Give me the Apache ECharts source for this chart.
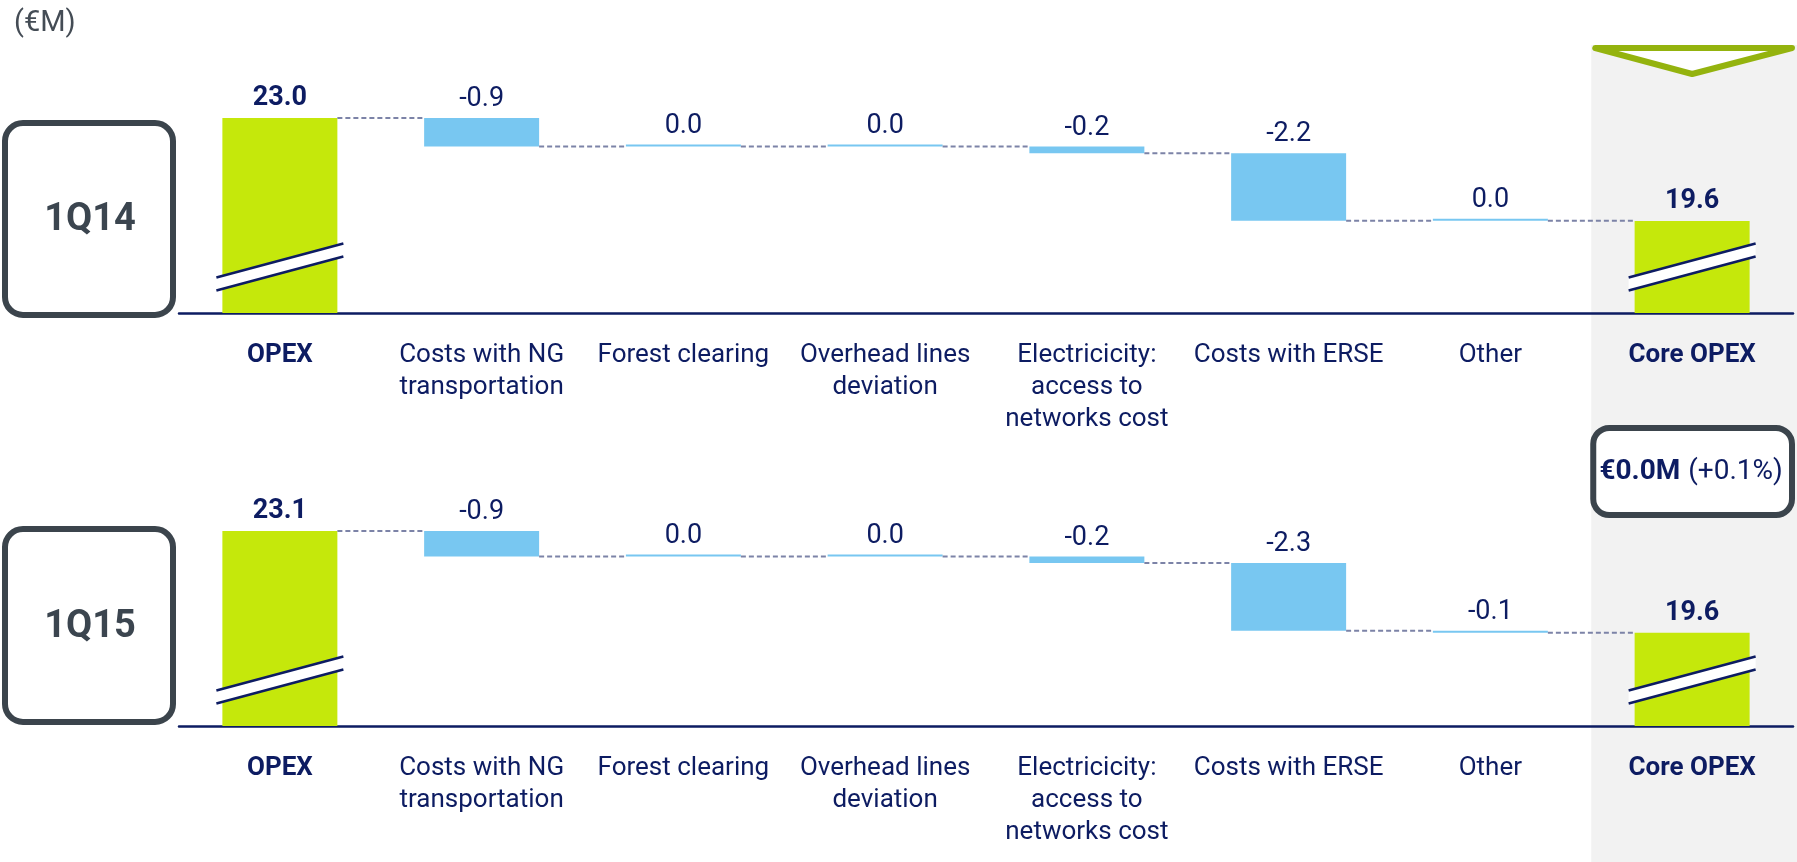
<!DOCTYPE html>
<html><head><meta charset="utf-8">
<script src="https://cdn.jsdelivr.net/npm/echarts@6.0.0/dist/echarts.min.js"></script>
<style>html,body{margin:0;padding:0;background:#fff}#c{width:1797px;height:862px}</style>
</head><body><div id="c"></div>
<script>
// ---- data ----
const categories = ['OPEX', 'Costs with NG\ntransportation', 'Forest clearing', 'Overhead lines\ndeviation',
  'Electricicity:\naccess to\nnetworks cost', 'Costs with ERSE', 'Other', 'Core OPEX'];
const periods = ['1Q14', '1Q15'];
const opex1Q14 = 23.03;
const deltas1Q14 = [-0.94, 0.0, 0.0, -0.22, -2.23, 0.0];
const core1Q14 = 19.63;
const opex1Q15 = 23.10;
const deltas1Q15 = [-0.88, 0.0, 0.0, -0.22, -2.33, -0.07];
const core1Q15 = 19.60;
const changeBold = '€0.0M';
const changeNormal = '(+0.1%)';
const unitLabel = '(€M)';
const axisRanges = [[16.6, 25.6], [16.4, 24.85]];

// ---- styles ----
const FONT = 'Roboto, "Noto Sans", sans-serif';
const NAVY = '#0d1c62';
const GREEN = '#c5e80b';
const BLUE = '#78c7f1';
const DASH = '#7c83a7';
const BOX = '#3b444c';
const BAR_FRAC = 0.57;

function panel(opex, deltas, core) {
  const totals = [opex], base = ['-'], vis = ['-'], signed = [null], levels = [opex];
  let level = opex;
  deltas.forEach(d => {
    const nl = level + d;
    totals.push('-'); base.push(Math.min(level, nl)); vis.push(Math.abs(d)); signed.push(d);
    level = nl; levels.push(level);
  });
  totals.push(core); base.push('-'); vis.push('-'); signed.push(null);
  const connectors = levels.map((l, i) => [i, l]);
  return {totals, base, vis, signed, connectors};
}
const panels = [panel(opex1Q14, deltas1Q14, core1Q14), panel(opex1Q15, deltas1Q15, core1Q15)];

const grids = [
  {left: 179, right: 4, top: 40, height: 273},
  {left: 179, right: 4, top: 480, height: 246}
];

const series = [];
const xAxes = [], yAxes = [];
panels.forEach((p, k) => {
  xAxes.push({
    type: 'category', gridIndex: k, data: categories,
    axisTick: {show: false},
    axisLine: {lineStyle: {color: NAVY, width: 2.5}},
    axisLabel: {
      interval: 0, margin: 26, color: NAVY, fontSize: 26, lineHeight: 32, fontFamily: FONT,
      formatter: (v, i) => (i === 0 || i === categories.length - 1) ? '{b|' + v + '}' : v,
      rich: {b: {fontWeight: 'bold', fontSize: 26, lineHeight: 32, color: NAVY, fontFamily: FONT}}
    }
  });
  yAxes.push({type: 'value', gridIndex: k, min: axisRanges[k][0], max: axisRanges[k][1], show: false, splitLine: {show: false}});
  const common = {xAxisIndex: k, yAxisIndex: k, barWidth: (BAR_FRAC * 100) + '%', barGap: '-100%'};
  series.push(Object.assign({
    type: 'bar', name: 'total' + k, data: p.totals, z: 2,
    itemStyle: {color: GREEN},
    label: {show: true, position: 'top', distance: 6, color: NAVY, fontSize: 27, fontWeight: 'bold', fontFamily: FONT,
      formatter: q => q.value.toFixed(1)}
  }, common));
  series.push(Object.assign({
    type: 'bar', name: 'base' + k, stack: 'wf' + k, data: p.base, z: 2,
    itemStyle: {color: 'rgba(0,0,0,0)'}, emphasis: {disabled: true}
  }, common));
  series.push(Object.assign({
    type: 'bar', name: 'delta' + k, stack: 'wf' + k, data: p.vis, z: 2, barMinHeight: 2,
    itemStyle: {color: BLUE},
    label: {show: true, position: 'top', distance: 5, color: NAVY, fontSize: 27, fontFamily: FONT,
      formatter: q => p.signed[q.dataIndex].toFixed(1)}
  }, common));
  // dashed connectors
  series.push({
    type: 'custom', xAxisIndex: k, yAxisIndex: k, z: 3, silent: true,
    data: p.connectors,
    renderItem: (params, api) => {
      const pt = api.coord([api.value(0), api.value(1)]);
      const band = api.size([1, 0])[0];
      const bw = band * BAR_FRAC;
      return {type: 'line', shape: {x1: pt[0] + bw / 2, y1: pt[1], x2: pt[0] + band - bw / 2, y2: pt[1]},
        style: {stroke: DASH, lineWidth: 2, lineDash: [5, 3]}};
    }
  });
  // axis break marks on total bars
  series.push({
    type: 'custom', xAxisIndex: k, yAxisIndex: k, z: 4, silent: true,
    data: [[0, axisRanges[k][0]], [categories.length - 1, axisRanges[k][0]]],
    renderItem: (params, api) => {
      const pt = api.coord([api.value(0), api.value(1)]);
      const bw = api.size([1, 0])[0] * BAR_FRAC;
      const half = bw / 2 + 6, cx = pt[0], cy = pt[1] - 46, rise = 17, g = 6.5;
      const L = [cx - half, cy + rise], R = [cx + half, cy - rise];
      return {type: 'group', children: [
        {type: 'polygon', shape: {points: [[L[0], L[1] - g], [R[0], R[1] - g], [R[0], R[1] + g], [L[0], L[1] + g]]}, style: {fill: '#fff'}},
        {type: 'line', shape: {x1: L[0], y1: L[1] - g, x2: R[0], y2: R[1] - g}, style: {stroke: NAVY, lineWidth: 2.5}},
        {type: 'line', shape: {x1: L[0], y1: L[1] + g, x2: R[0], y2: R[1] + g}, style: {stroke: NAVY, lineWidth: 2.5}}
      ]};
    }
  });
});

const chart = echarts.init(document.getElementById('c'));
chart.setOption({
  animation: false,
  backgroundColor: '#fff',
  grid: grids,
  xAxis: xAxes,
  yAxis: yAxes,
  series: series
});

// decorations positioned from the axis scale
const W = chart.getWidth(), H = chart.getHeight();
const cCore = chart.convertToPixel({xAxisIndex: 0}, categories[7]);
const cPrev = chart.convertToPixel({xAxisIndex: 0}, categories[6]);
const bandW = cCore - cPrev;
const bandL = cCore - bandW / 2;
chart.setOption({
  graphic: {elements: [
    {type: 'rect', z: -10, shape: {x: bandL, y: 45, width: W - bandL, height: H - 45}, style: {fill: '#f2f2f2'}},
    {type: 'polygon', z: 10, shape: {points: [[bandL + 4, 48], [W - 5, 48], [cCore, 74]]},
      style: {fill: '#fff', stroke: '#94b30e', lineWidth: 6, lineJoin: 'round'}},
    {type: 'rect', z: 10, shape: {x: bandL + 2, y: 428, width: W - bandL - 7, height: 87, r: 16},
      style: {fill: '#fff', stroke: BOX, lineWidth: 6}},
    {type: 'text', z: 11, x: cCore - 1, y: 472, style: {
      text: '{b|' + changeBold + '}{n|' + changeNormal + '}', align: 'center', verticalAlign: 'middle',
      rich: {b: {fontWeight: 'bold', fontSize: 28, fill: NAVY, fontFamily: FONT},
             n: {fontSize: 28, fill: NAVY, fontFamily: FONT, padding: [0, 0, 0, 8]}}}},
    {type: 'rect', z: 10, shape: {x: 5, y: 123, width: 168, height: 192, r: 18}, style: {fill: 'none', stroke: BOX, lineWidth: 6}},
    {type: 'rect', z: 10, shape: {x: 5, y: 529, width: 168, height: 193, r: 18}, style: {fill: 'none', stroke: BOX, lineWidth: 6}},
    {type: 'text', z: 11, x: 90, y: 220, style: {text: periods[0], align: 'center', verticalAlign: 'middle', fontSize: 38, fontWeight: 'bold', fontFamily: FONT, fill: '#3b454f'}},
    {type: 'text', z: 11, x: 90, y: 627, style: {text: periods[1], align: 'center', verticalAlign: 'middle', fontSize: 38, fontWeight: 'bold', fontFamily: FONT, fill: '#3b454f'}},
    {type: 'text', z: 11, x: 14, y: 24, style: {text: unitLabel, align: 'left', verticalAlign: 'middle', fontSize: 29, fontFamily: FONT, fill: '#444c55'}}
  ]}
});
</script>
</body></html>
